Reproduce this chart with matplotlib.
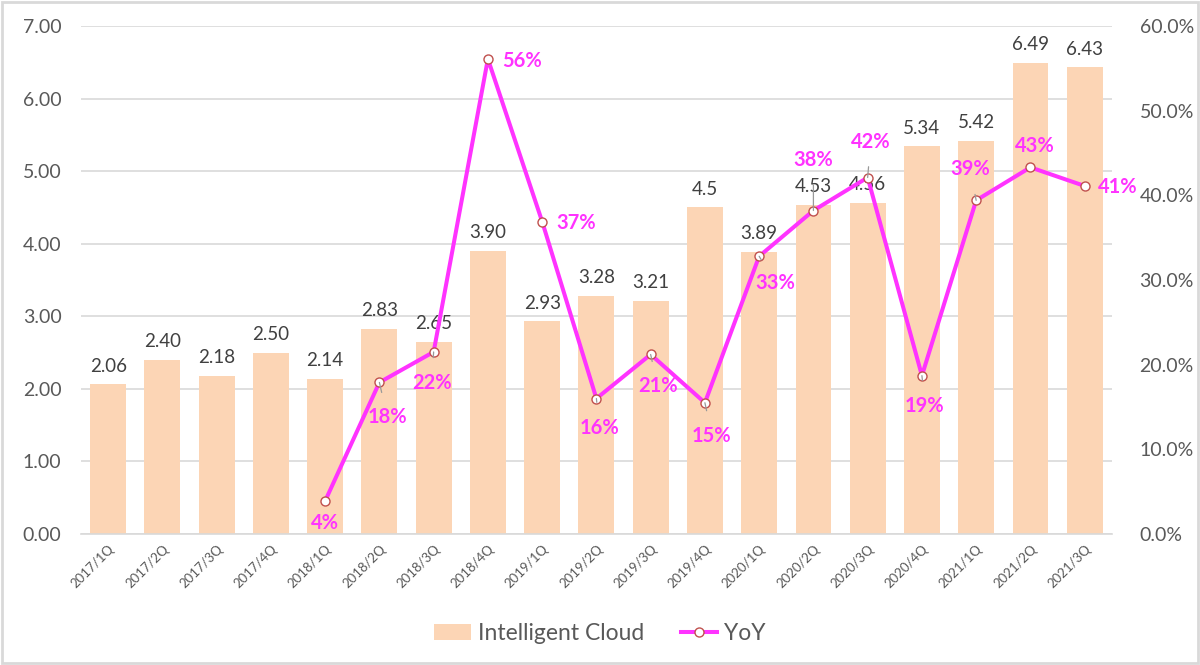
import numpy as np
import matplotlib.pyplot as plt
from matplotlib.patches import Rectangle
from matplotlib.ticker import FuncFormatter

plt.rcParams['font.family'] = ['Lato', 'DejaVu Sans']

quarters = ['2017/1Q', '2017/2Q', '2017/3Q', '2017/4Q', '2018/1Q', '2018/2Q', '2018/3Q',
            '2018/4Q', '2019/1Q', '2019/2Q', '2019/3Q', '2019/4Q', '2020/1Q', '2020/2Q',
            '2020/3Q', '2020/4Q', '2021/1Q', '2021/2Q', '2021/3Q']
cloud = [2.06, 2.40, 2.18, 2.50, 2.14, 2.83, 2.65, 3.90, 2.93, 3.28, 3.21, 4.50, 3.89,
         4.53, 4.56, 5.34, 5.42, 6.49, 6.43]
cloud_labels = ['2.06', '2.40', '2.18', '2.50', '2.14', '2.83', '2.65', '3.90', '2.93',
                '3.28', '3.21', '4.5', '3.89', '4.53', '4.56', '5.34', '5.42', '6.49', '6.43']
yoy = [np.nan, np.nan, np.nan, np.nan, 0.039, 0.179, 0.215, 0.561, 0.369, 0.160, 0.212,
       0.155, 0.328, 0.382, 0.421, 0.187, 0.394, 0.433, 0.411]
yoy_labels = ['', '', '', '', '4%', '18%', '22%', '56%', '37%', '16%', '21%', '15%', '33%',
              '38%', '42%', '19%', '39%', '43%', '41%']

# label offsets in pixels (dx, dy) and whether a leader line is drawn
offs = {4: (0, -22, 0), 5: (8, -35, 1), 6: (-2, -31, 1), 7: (34, -2, 0), 8: (34, -1, 0),
        9: (3, -29, 1), 10: (7, -32, 1), 11: (7, -33, 1), 12: (16, -27, 1), 13: (0, 51, 1),
        14: (3, 36, 1), 15: (3, -30, 1), 16: (-6, 31, 1), 17: (4, 21, 0), 18: (33, -1, 0)}

grey = '#595959'
bar_col = '#FCD5B5'
mag = '#FF33FF'

fig = plt.figure(figsize=(12, 6.65), dpi=100)
ax = fig.add_axes([0.0675, 0.197, 0.859, 0.764])
ax2 = ax.twinx()
ax.set_zorder(1)
ax2.set_zorder(2)
ax.patch.set_visible(False)

x = np.arange(len(quarters))
bars = ax.bar(x, cloud, width=0.66, color=bar_col, label='Intelligent Cloud', zorder=2)
ax.bar_label(bars, labels=cloud_labels, padding=7, fontsize=13.5, color='#404040')

ax.set_ylim(0, 7)
ax.set_yticks(np.arange(0, 8, 1))
ax.yaxis.set_major_formatter(FuncFormatter(lambda v, p: f'{v:.2f}'))
ax.set_xlim(-0.5, len(quarters) - 0.5)
ax.set_xticks(x)
ax.set_xticklabels(quarters, rotation=45, ha='right', rotation_mode='anchor', fontsize=9.5, color=grey)
ax.tick_params(axis='y', labelsize=14, colors=grey, length=0, pad=14)
ax.tick_params(axis='x', length=0, pad=6)
ax.grid(axis='y', color='#d9d9d9', linewidth=1.2, zorder=0)
for s in ['top', 'right', 'left']:
    ax.spines[s].set_visible(False)
ax.spines['bottom'].set_color('#d9d9d9')
ax.spines['bottom'].set_linewidth(1.2)

line, = ax2.plot(x, yoy, color=mag, linewidth=2.9, marker='o', markersize=6.5,
                 markerfacecolor='white', markeredgecolor='#C0504D', markeredgewidth=1,
                 label='YoY', zorder=3)
ax2.set_ylim(0, 0.6)
ax2.set_yticks(np.arange(0, 0.61, 0.1))
ax2.yaxis.set_major_formatter(FuncFormatter(lambda v, p: f'{v*100:.1f}%'))
ax2.tick_params(axis='y', labelsize=14, colors=grey, length=0, pad=20)
for s in ax2.spines.values():
    s.set_visible(False)

for i, (dx, dy, lead) in offs.items():
    kw = {}
    if lead:
        kw['arrowprops'] = dict(arrowstyle='-', color='#999999', lw=0.9, shrinkA=9, shrinkB=0)
    ax2.annotate(yoy_labels[i], (x[i], yoy[i]), xytext=(dx, dy), textcoords='offset pixels',
                 ha='center', va='center', fontsize=14.5, fontweight='bold', color=mag,
                 zorder=4, **kw)

fig.legend(handles=[bars, line], labels=['Intelligent Cloud', 'YoY'], loc='center',
           bbox_to_anchor=(0.5, 0.048), ncol=2, frameon=False, fontsize=16.5,
           labelcolor=grey, handlelength=1.6, handletextpad=0.3, columnspacing=1.6)

fig.patches.append(Rectangle((0.002, 0.003), 0.996, 0.994, transform=fig.transFigure,
                             fill=False, edgecolor='#d9d9d9', linewidth=2))

fig.savefig('out.png', dpi=100)
